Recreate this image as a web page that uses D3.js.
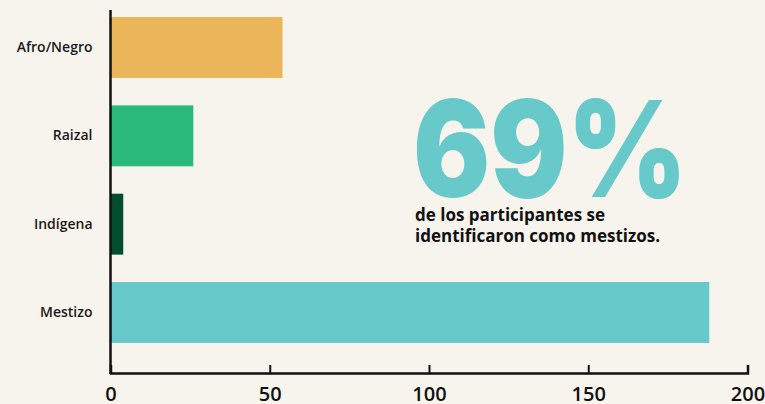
<!DOCTYPE html>
<html>
<head>
<meta charset="utf-8">
<script src="https://cdn.jsdelivr.net/npm/d3@7"></script>
<style>
  body { margin: 0; background: #f7f4ee; }
  svg { display: block; }
</style>
</head>
<body>
<svg id="chart"></svg>
<script>
// datos
var categorias = ["Afro/Negro", "Raizal", "Indígena", "Mestizo"];
var valores = [54, 26, 4, 188];
var colores = ["#ebb65a", "#2bb87b", "#024d2e", "#67c9c9"];
var ticks = [0, 50, 100, 150, 200];

var w = 765;
var h = 404;
var svg = d3.select("#chart").attr("width", w).attr("height", h);

var x = d3.scaleLinear().domain([0, 200]).range([110.5, 747.5]);
var y = d3.scaleBand()
  .domain(categorias)
  .range([3.35, 356.65])
  .paddingInner(0.31)
  .paddingOuter(0.155);

var fuente = "'Open Sans', sans-serif";

// barras
svg.selectAll("rect.bar")
  .data(categorias)
  .enter()
  .append("rect")
  .attr("class", "bar")
  .attr("x", x(0))
  .attr("y", d => y(d))
  .attr("width", (d, i) => x(valores[i]) - x(0))
  .attr("height", y.bandwidth())
  .attr("fill", (d, i) => colores[i]);

// eje x
var ejeX = svg.append("g")
  .attr("transform", "translate(0,373)")
  .call(d3.axisBottom(x).tickValues(ticks).tickSize(-8).tickPadding(14));
ejeX.select(".domain").attr("stroke", "#111").attr("stroke-width", 2.5);
ejeX.selectAll(".tick line").attr("stroke", "#111").attr("stroke-width", 2);
ejeX.selectAll(".tick text")
  .attr("fill", "#111")
  .style("font-family", fuente)
  .style("font-weight", 600)
  .style("font-size", "20px");

// eje y
var ejeY = svg.append("g")
  .attr("transform", "translate(110.5,0)")
  .call(d3.axisLeft(y).tickSize(0).tickPadding(18));
ejeY.select(".domain").remove();
svg.append("line")
  .attr("x1", 110.5).attr("x2", 110.5)
  .attr("y1", 10).attr("y2", 374)
  .attr("stroke", "#111").attr("stroke-width", 2.5);
ejeY.selectAll(".tick text")
  .attr("fill", "#1a1a1a")
  .style("font-family", fuente)
  .style("font-weight", 600)
  .style("font-size", "14px");

// texto destacado
svg.append("text")
  .attr("x", 413)
  .attr("y", 197)
  .attr("textLength", 274)
  .attr("lengthAdjust", "spacingAndGlyphs")
  .style("font-family", "Inter, sans-serif")
  .style("font-weight", 900)
  .style("font-size", "134px")
  .attr("fill", "#67c9c9")
  .text("69%");

svg.append("text")
  .attr("x", 415)
  .attr("y", 221)
  .style("font-family", fuente)
  .style("font-weight", 700)
  .style("font-size", "17px")
  .attr("fill", "#111")
  .text("de los participantes se");
svg.append("text")
  .attr("x", 415)
  .attr("y", 242)
  .style("font-family", fuente)
  .style("font-weight", 700)
  .style("font-size", "17px")
  .attr("fill", "#111")
  .text("identificaron como mestizos.");
</script>
</body>
</html>
